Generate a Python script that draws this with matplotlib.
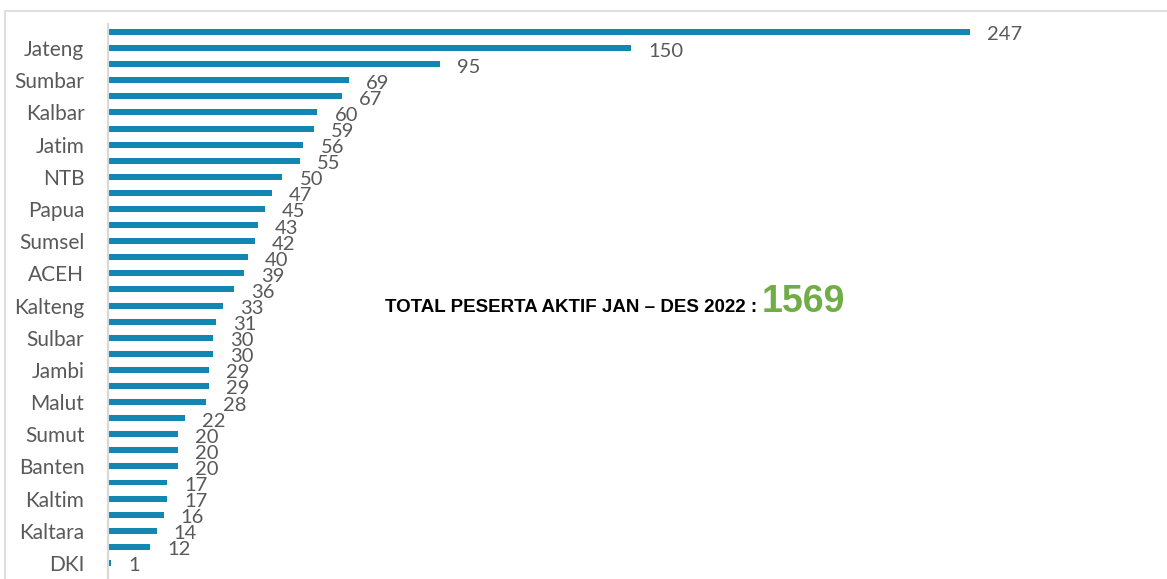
import numpy as np
import matplotlib.pyplot as plt
from matplotlib.patches import Rectangle

# jumlah peserta aktif per provinsi, urut dari terbesar
peserta = [247, 150, 95, 69, 67, 60, 59, 56, 55, 50, 47, 45, 43, 42, 40, 39, 36,
           33, 31, 30, 30, 29, 29, 28, 22, 20, 20, 20, 17, 17, 16, 14, 12, 1]
# label sumbu hanya tampil tiap dua batang (posisi 1, 3, 5, ...)
label_provinsi = ['Jateng', 'Sumbar', 'Kalbar', 'Jatim', 'NTB', 'Papua', 'Sumsel',
                  'ACEH', 'Kalteng', 'Sulbar', 'Jambi', 'Malut', 'Sumut', 'Banten',
                  'Kaltim', 'Kaltara', 'DKI']
judul_total = 'TOTAL PESERTA AKTIF JAN \u2013 DES 2022 :'

W, H = 1167, 579
bar_color = '#1187b2'
grey_txt = '#595959'

plt.rcParams['font.family'] = ['Lato', 'DejaVu Sans']

fig = plt.figure(figsize=(W / 100, H / 100), dpi=100)

# bingkai area grafik
fig.patches.append(Rectangle((5 / W, -0.1), 1.2, 1 - 11 / H + 0.1,
                             transform=fig.transFigure, fill=False,
                             edgecolor='#d9d9d9', linewidth=1.2))

# posisi plot dalam piksel
left, right, top = 108, 1120, 24
ax = fig.add_axes([left / W, 0, (right - left) / W, (H - top) / H])

y = np.arange(len(peserta))
ax.barh(y, peserta, height=0.37, color=bar_color)

ax.set_xlim(0, 247 * (right - left) / (970 - left))
# 16.09 px per kategori, batang pertama di y=32
step = 16.09
ax.set_ylim((H - 32) / step, -(32 - top) / step)

for i, v in enumerate(peserta):
    ax.annotate(str(v), (v, i), xytext=(17, -3), textcoords='offset pixels',
                ha='left', va='center', fontsize=14.5, color=grey_txt)

ax.set_yticks(y[1::2])
ax.set_yticklabels(label_provinsi, fontsize=15, color=grey_txt)
ax.tick_params(axis='y', length=0, pad=17)
ax.set_xticks([])

for s in ['top', 'right', 'bottom']:
    ax.spines[s].set_visible(False)
ax.spines['left'].set_color('#d9d9d9')
ax.spines['left'].set_linewidth(1.5)

# teks total peserta
t1 = fig.text(385 / W, 1 - 312 / H, judul_total, family='Liberation Sans',
              fontweight='bold', fontsize=13.5, color='black', ha='left', va='baseline')
fig.canvas.draw()
bb = t1.get_window_extent()
fig.text((bb.x1 + 5) / W, 1 - 312 / H, str(sum(peserta)), family='Liberation Sans',
         fontweight='bold', fontsize=27, color='#70ad47', ha='left', va='baseline')

fig.savefig('out.png', dpi=100)
